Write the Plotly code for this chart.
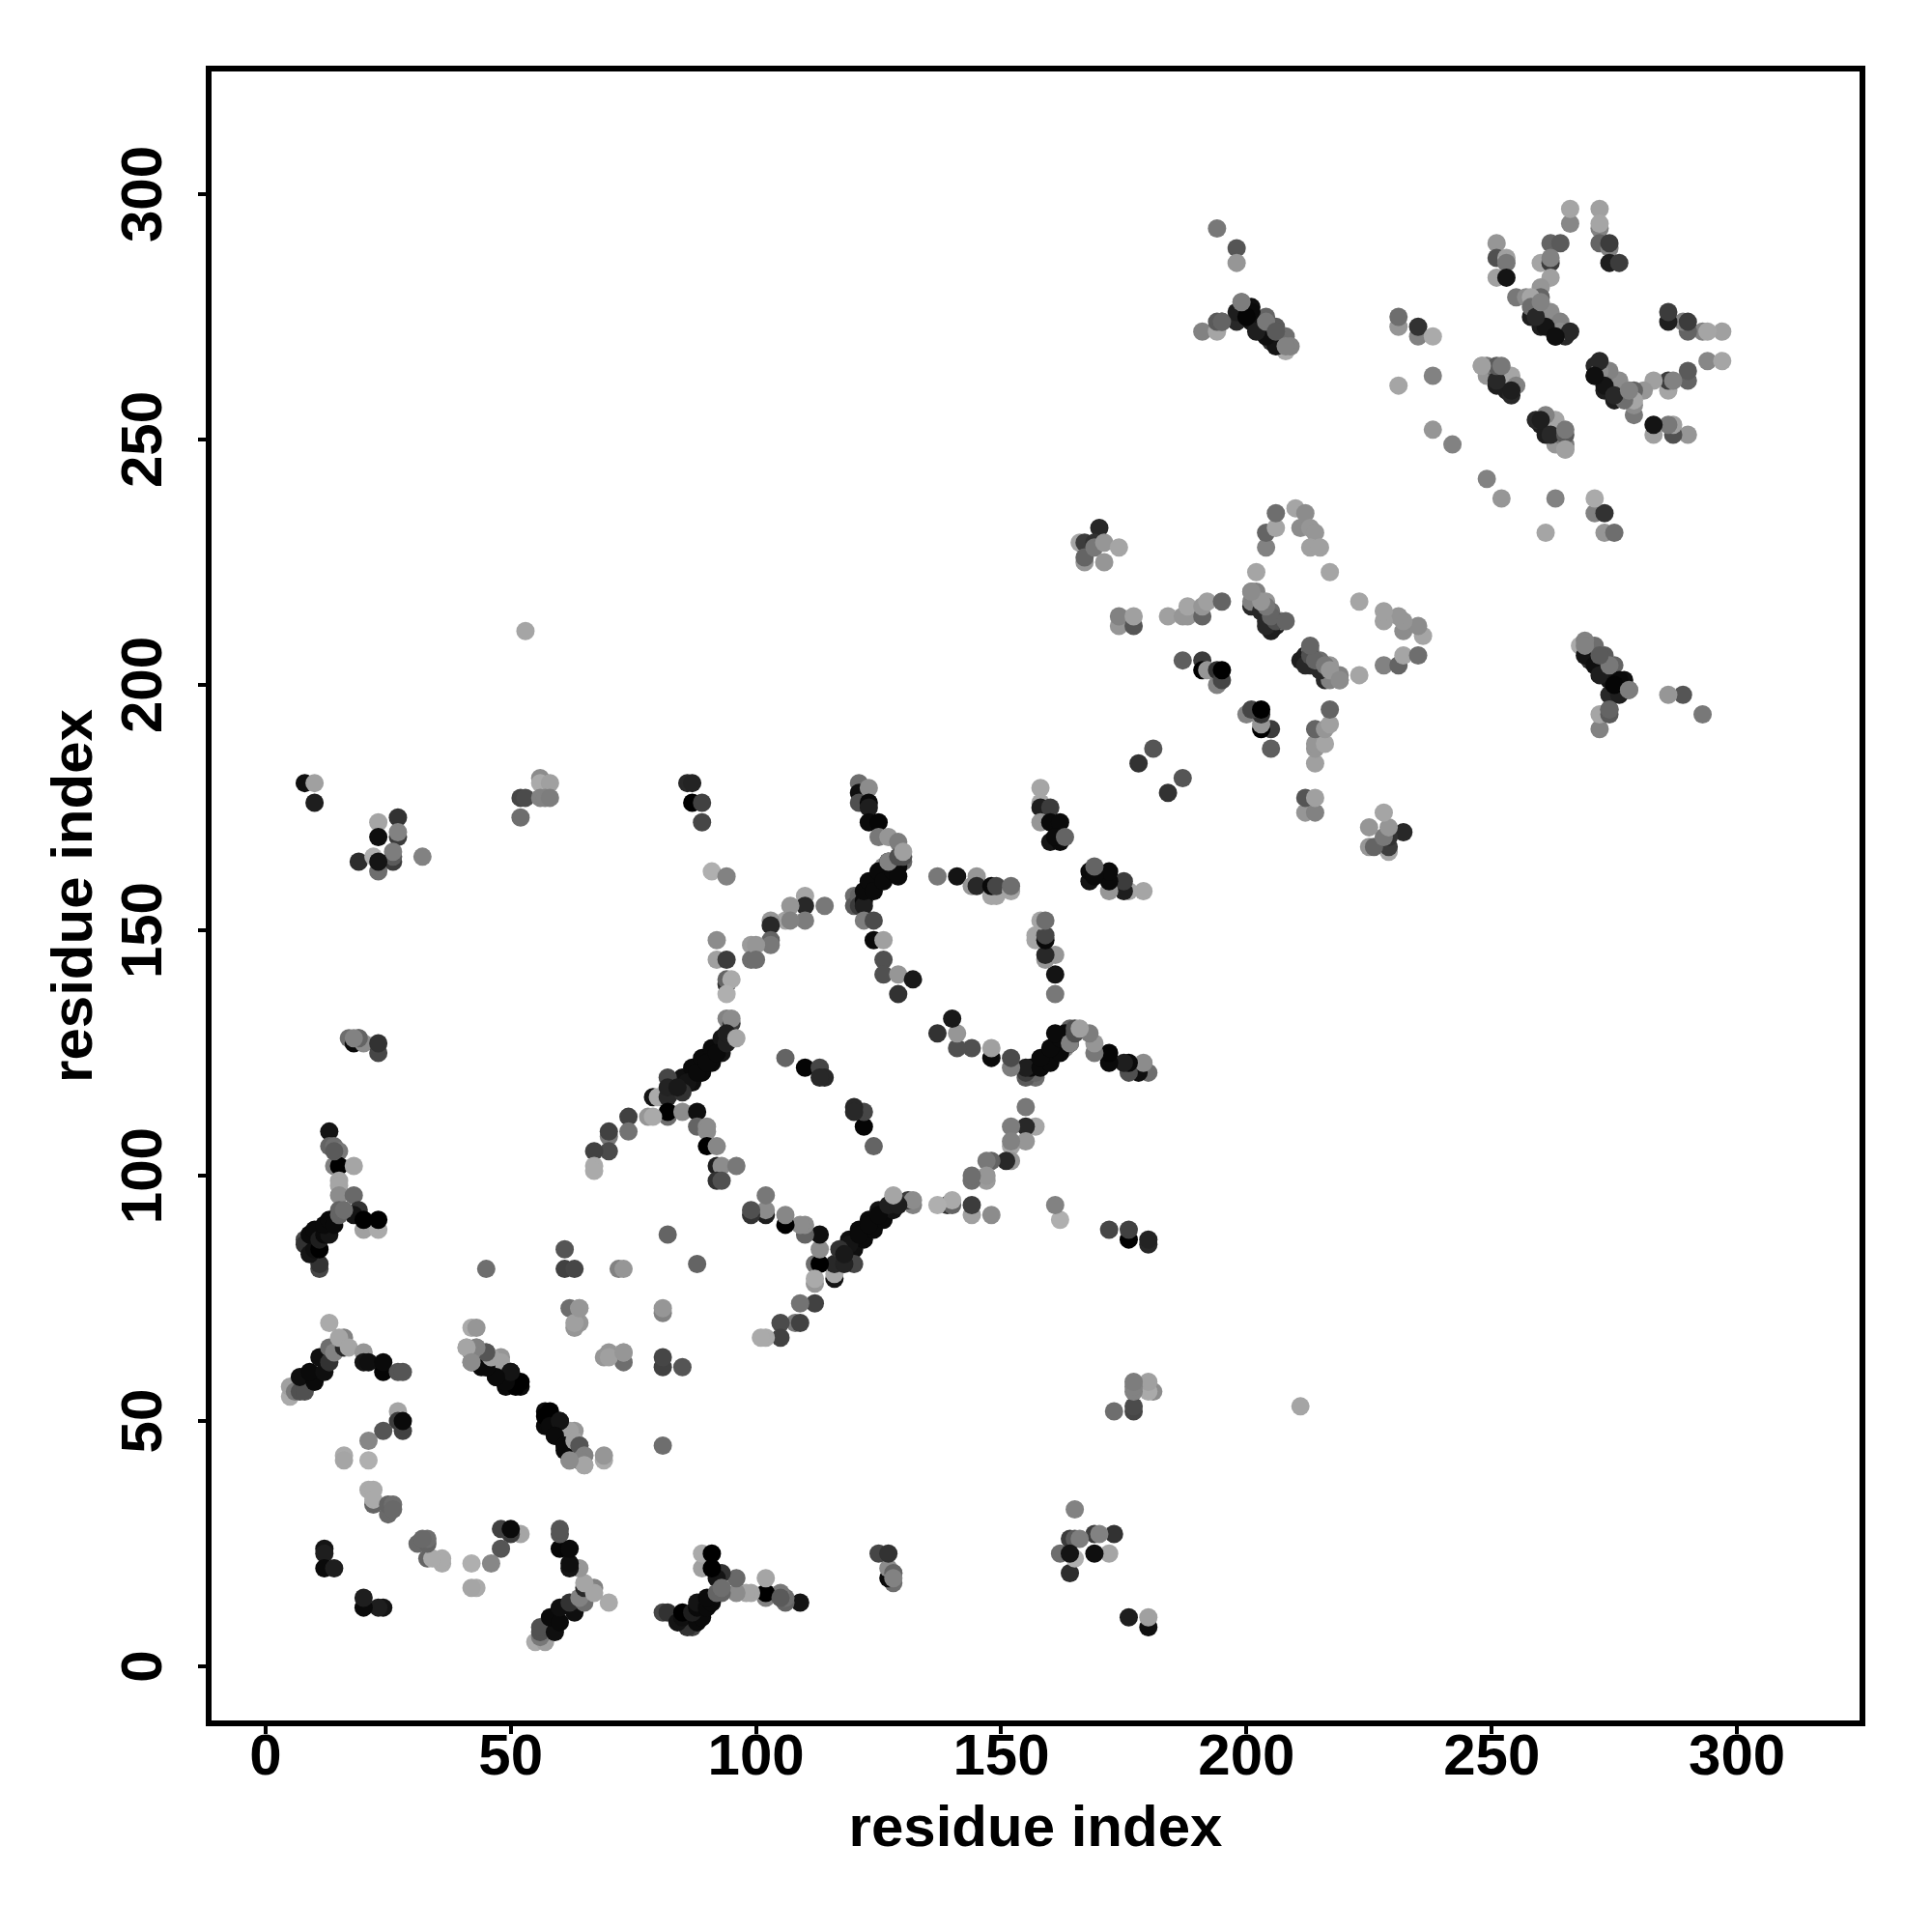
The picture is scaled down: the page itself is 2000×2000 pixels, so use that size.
import plotly.graph_objects as go

# contacts as (residue i, residue j, grey level 0-255); the map is symmetric, only i<j is listed
corner_8_32 = [(8,180,15),(10,180,160),(10,176,30),(27,173,50),(23,172,165),(23,169,15),(27,169,60),(27,170,130),
    (26,164,60),(26,165,90),(26,166,125),(32,165,130),(19,164,45),(23,162,110),(22,165,175),(23,164,20)]
top_52_58 = [(52,173,110),(52,177,70),(53,177,75),(56,181,140),(56,180,170),(58,180,160),(56,177,130),(57,177,130),(58,177,125)]
top_86_89 = [(86,180,40),(87,180,35),(87,176,0),(89,176,65),(89,172,70),(91,162,175),(94,161,130)]
col_92_99 = [(92,148,140),(99,147,155),(99,144,110),(92,144,160),(94,144,60),(94,139,50),(94,140,100),(95,140,170),(94,137,175),
    (94,132,130),(95,131,60),(95,132,140)]
band_85_94_grey = [(86,120,130),(88,122,130),(90,124,130),(92,126,120),(87,121,110),(89,123,120),(91,125,110),(93,127,90)]
band_85_94_dark = [(87,119,15),(89,121,10),(91,123,10),(93,125,20),(85,120,15),(87,122,10),(89,124,10),(91,126,10),(93,128,20),(86,119,20),(88,121,10),(90,123,10),(92,125,10),(94,127,30),(94,129,30),(83,117,170),(96,128,165)]
arm_67_85 = [(82,120,70),(79,116,20),(80,116,170),(82,116,40),(82,118,35),(85,117,50),(84,118,25),(82,112,110),(82,113,0),(78,112,150),(79,112,170),(85,113,140),(88,113,15),
    (74,112,65),(74,109,115),(70,108,120),(70,109,65),(70,105,75),(67,105,65),(67,102,170),(67,101,170)]
arm_88_99 = [(88,110,100),(90,110,140),(90,109,140),(90,106,0),(92,106,135),(92,102,30),(93,102,140),(96,102,120),(92,99,50),(93,99,80),(99,93,100),(99,92,60),
    (102,96,110),(102,93,130),(102,92,10),(103,92,110),(106,92,135),(106,90,0),(109,90,130),(110,90,130),(110,88,100),(113,88,10),(113,85,130),(112,82,130)]
cluster_18_23 = [(17,128,110),(19,128,120),(18,127,10),(20,127,140),(23,125,70),(23,127,50)]
left_13_23 = [(13,109,20),(13,106,100),(14,106,110),(15,105,120),(14,102,130),(15,102,0),(18,102,165),(15,99,165),(15,98,165),(15,96,140),(18,96,105),(15,93,100),
    (19,93,50),(18,92,20),(20,89,160),(23,89,170),(20,91,0),(23,91,0)]
left_8_16 = [(11,81,70),(11,82,50),(8,87,70),(8,86,50),(9,84,20),(10,85,15),(11,85,0),(9,88,10),(10,89,10),(11,87,30),(12,88,10),(13,88,20),(12,90,10),(13,91,10),(14,90,10),(15,92,100),(16,93,110)]
band_5_17 = [(5,55,170),(5,57,160),(6,56,120),(7,56,80),(8,56,80),(7,59,15),(10,58,10),(9,60,10),(12,60,15),(11,63,15),(13,62,50),(13,65,110),(14,64,130),(16,65,40),
    (13,70,170),(16,67,130),(15,67,165),(17,65,165),(20,64,150),(20,62,20),(21,62,15),(24,60,5),(24,62,10),(27,60,85),(28,60,85)]
band_41_52 = [(42,69,170),(43,69,150),(41,65,160),(42,62,140),(42,64,130),(43,65,150),(45,64,90),(44,61,10),(45,61,10),(47,59,10),(49,57,10),(52,57,10),(46,63,170),(48,63,150),(48,62,160),(50,60,30),(52,58,0)]
band_41_52_b = [(51,57,0),(49,58,10),(50,60,20),(47,59,10),(45,61,10),(46,63,160),(45,64,85),(43,65,130),(42,64,130),(41,65,165),(42,62,140)]
scatter_45_88 = [(61,85,85),(61,81,65),(63,81,70),(45,81,110),(72,81,130),(73,81,150),(82,88,100),(62,73,110),(64,73,165),(63,69,150),(64,70,150),(63,70,160),(64,73,150)]
left_16_28 = [(27,52,165),(27,50,60),(28,48,65),(28,50,10),(24,48,85),(21,46,135),(16,43,170),(16,42,165),(21,42,175),(21,36,170),(22,36,170),(22,33,100),(22,34,170),
    (25,31,105),(25,33,100),(26,33,110),(26,32,105),(12,24,20),(12,23,30),(12,20,10),(14,20,30)]
tail_102_128 = [(14,105,90),(19,128,100),(18,128,130)]
mid_100_114 = [(114,155,120),(110,157,165),(110,155,40),(110,152,125),(106,152,165),(107,155,150),(107,152,130),(103,152,150),(103,151,40),(103,148,100),(103,147,120),(100,147,150),(100,144,110)]
band_120_130_grey = [(123,159,130),(124,160,140),(125,161,140),(126,163,140),(128,164,150),(130,164,100)]
band_120_130_dark = [(120,157,110),(120,155,90),(121,157,100),(121,155,60),(122,156,10),(122,155,30),(122,158,10),(123,160,10),(124,158,10),(125,162,10),(126,160,10),(127,164,10),(128,162,10),(129,163,10),(129,161,10)]
top_121_130 = [(121,180,110),(121,178,15),(123,179,140),(121,176,80),(123,176,10),(123,175,30),(123,172,10),(125,172,5),(125,169,120),(127,169,150),(129,168,125),(127,164,130),(129,165,80),(130,165,80),(130,166,160)]
col_122_132 = [(122,152,125),(124,152,75),(124,148,10),(126,148,160),(126,144,80),(126,141,80),(129,141,150),(132,140,25),(129,137,50)]
top_137_152 = [(137,161,120),(141,161,20),(145,161,150),(144,159,150),(145,159,40),(148,157,165),(149,157,165),(148,159,10),(149,159,70),(152,158,165),(152,159,110)]
top_158_179 = [(158,179,165),(158,176,165),(158,175,30),(160,175,60),(158,172,150),(160,172,10),(162,172,10),(160,168,20),(162,168,10),(161,169,10),(163,169,100)]
inner_106_124 = [(106,124,100),(110,122,5),(113,122,70),(114,120,40),(113,120,40)]
right_lower_a = [(170,232,40),(166,229,165),(167,229,60),(167,225,150),(167,226,100),(169,229,50),(169,228,120),(171,229,150),(171,225,150),(174,228,165),
    (174,212,150),(174,214,130),(177,212,85),(177,214,160),(184,214,160),(187,214,150),(188,214,150),(188,216,165),(191,214,100),(191,216,150),(192,217,160),(195,217,100),
    (187,205,95),(191,205,60),(191,203,0),(192,203,150),(194,200,130),(194,203,50),(195,201,70),(195,203,0),(181,187,85),(178,184,50),(53,211,165)]
right_lower_b = [(201,216,40),(203,215,40),(205,213,40),(206,212,30),(201,219,130),(202,219,130),(204,217,150),(205,215,110),(207,213,120),
    (202,223,165),(204,228,130),(204,231,100),(206,232,165),(206,235,110),(210,236,165),(211,232,140),(212,235,140),(213,232,150),(214,231,150),(213,228,160),(215,228,160),(217,223,165)]
right_lower_c = [(201,217,130),(203,215,40),(204,213,40),(205,211,30),(204,212,40),(206,213,80),(205,214,100),(204,216,120),(203,217,150),(208,213,100),(201,219,140)]
top_191_209 = [(191,272,130),(194,272,165),(194,274,90),(195,274,90),(194,293,120),(198,289,85),(198,286,150),(198,274,40),(198,276,30),(199,278,110),(201,277,15),(201,274,20),
    (205,270,50),(203,272,10),(204,275,100),(206,273,90),(208,268,170),(208,271,110),(209,269,130)]
top_269_mirror = [(206,269,20),(204,271,15),(202,272,30),(201,276,10),(200,275,5),(199,278,125),(204,274,120),(206,272,90),(208,269,130),(195,274,100)]
top_231_242 = [(231,273,150),(231,275,110),(235,271,130),(235,273,50),(238,271,170),(238,263,130),(231,261,165),(238,252,150),(242,249,130)]
corner_248_255 = [(248,265,155),(249,265,120),(250,264,100),(249,263,150),(251,261,30),(253,260,30),(254,259,40),(251,264,120),(252,263,120),(254,263,165),(255,261,130),
    (254,260,30),(251,262,40),(251,265,90),(252,265,120),(248,265,160)]
corner_251_276 = [(251,290,150),(251,287,80),(253,287,160),(253,286,120),(251,283,160),(253,283,20),(262,290,100),(264,290,90),(260,286,165),(262,286,60),(262,287,130),(262,283,160),(260,281,150),(260,279,100),(255,279,120),(257,279,140),(258,279,165),
    (258,275,30),(260,273,30),(263,271,30),(265,271,40),(258,277,110),(262,276,140),(264,274,130),(264,272,140),(266,272,40),
    (261,273,20),(259,275,40),(263,271,15),(260,278,130),
    (266,294,135),(266,297,165),(272,293,130),(272,297,160),(272,294,165),(272,290,100),(274,289,130),(274,290,60),(274,286,30),(276,286,60)]

def keep(rows):
    return [r for r in rows if r[0] < r[1]]

contacts = []
for group in (corner_8_32, top_52_58, top_86_89, col_92_99, band_85_94_grey, band_85_94_dark, arm_67_85, arm_88_99, cluster_18_23,
              left_13_23, left_8_16, band_5_17, band_41_52, band_41_52_b, scatter_45_88, left_16_28, tail_102_128,
              mid_100_114, band_120_130_grey, band_120_130_dark, top_121_130, col_122_132, top_137_152, top_158_179, inner_106_124,
              right_lower_a, right_lower_b, right_lower_c, top_191_209, top_269_mirror, top_231_242, corner_248_255, corner_251_276):
    contacts.extend(keep(group))

xs = [c[0] for c in contacts] + [c[1] for c in contacts]
ys = [c[1] for c in contacts] + [c[0] for c in contacts]
greys = [c[2] for c in contacts] * 2
colors = [f"rgb({g},{g},{g})" for g in greys]

tick_values = [0, 50, 100, 150, 200, 250, 300]
FONT = "Liberation Sans"

fig = go.Figure(go.Scatter(x=xs, y=ys, mode="markers", marker=dict(size=19, color=colors, line=dict(width=0)), showlegend=False))
axis = dict(range=[-11, 325], tickvals=tick_values, ticktext=[str(v) for v in tick_values], showgrid=False, zeroline=False,
            showline=True, mirror=True, linecolor="black", linewidth=6, ticks="outside", ticklen=8, tickwidth=4, tickcolor="black",
            tickfont=dict(family=FONT, size=60, color="black", weight="bold"))
fig.update_layout(width=2000, height=2000, autosize=False, paper_bgcolor="white", plot_bgcolor="white",
                  margin=dict(l=211, r=83, t=66, b=227),
                  xaxis=dict(axis, tickangle=0, ticklabelstandoff=-30,
                             title=dict(text="<b>residue index</b>", font=dict(family=FONT, size=60, color="black"), standoff=22)),
                  yaxis=dict(axis, tickangle=-90, ticklabelstandoff=14, ticklabelshift=9,
                             title=dict(text="<b>residue index</b>", font=dict(family=FONT, size=60, color="black"), standoff=0)))
fig.write_html("out.html")
